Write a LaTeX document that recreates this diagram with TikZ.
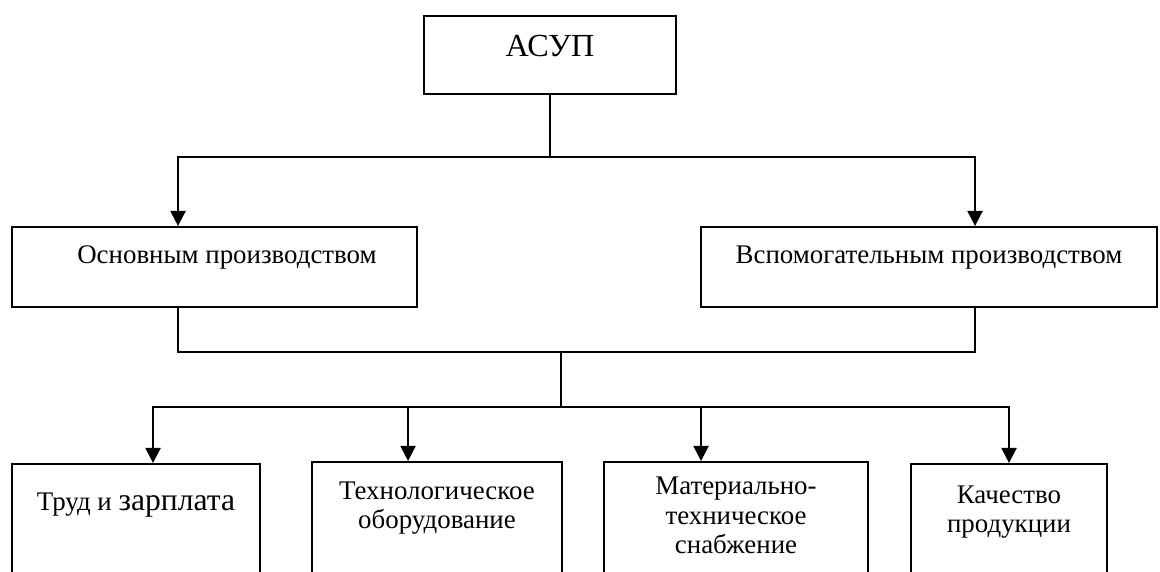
\documentclass[tikz,border=0pt]{standalone}
\usepackage{fontspec}
\setmainfont{Liberation Serif}
\usetikzlibrary{arrows.meta}

\begin{document}
\begin{tikzpicture}[
  box/.style={draw, line width=1.1pt, inner sep=0pt, anchor=north, align=center,
    font=\fontsize{15.3}{17}\selectfont},
  line/.style={line width=1.1pt},
  arr/.style={line width=1.1pt, -{Triangle[length=0.3cm,width=0.3cm]}}
]
\useasboundingbox (0,0) rectangle (23.2,11.44);

\node[box, minimum width=5.05cm, text height=0.82cm, text depth=0.74cm,
  font=\fontsize{18.3}{20}\selectfont] (asup) at (11,11.14) {АСУП};

\node[box, minimum width=8.1cm, text height=0.74cm, text depth=0.86cm] (osnov) at (4.29,6.92) {\hspace*{0.5cm}Основным производством};
\node[box, minimum width=9.12cm, text height=0.74cm, text depth=0.86cm] (vspom) at (18.58,6.92) {Вспомогательным производством};

\coordinate (jtop) at (11,8.3);
\draw[line] (asup) -- (jtop);
\draw[arr] (jtop) -| ([xshift=3.34cm]osnov.north west);
\draw[arr] (jtop) -| ([xshift=5.50cm]vspom.north west);

\node[box, minimum width=4.96cm, text height=0.94cm, text depth=1.44cm] (trud) at (2.72,2.18) {Труд и {\fontsize{18}{20}\selectfont зарплата}};
\node[box, minimum width=5.0cm, text height=1.34cm, text depth=1.08cm] (tehn) at (8.74,2.22) {Технологическое\\оборудование};
\node[box, minimum width=5.28cm, text height=1.84cm, text depth=0.58cm] (mater) at (14.72,2.22) {Материально-\\техническое\\снабжение};
\node[box, minimum width=3.92cm, text height=1.38cm, text depth=1.0cm] (kach) at (20.18,2.18) {Качество\\продукции};

\coordinate (jmid) at (11.22,4.40);
\coordinate (jlow) at (11.22,3.30);
\draw[line] ([xshift=3.34cm]osnov.south west) |- (jmid);
\draw[line] ([xshift=5.50cm]vspom.south west) |- (jmid);
\draw[line] (jmid) -- (jlow);

\draw[arr] (jlow) -| ([xshift=2.84cm]trud.north west);
\draw[arr] (jlow) -| ([xshift=1.94cm]tehn.north west);
\draw[arr] (jlow) -| ([xshift=1.96cm]mater.north west);
\draw[arr] (jlow) -| ([xshift=1.98cm]kach.north west);

\end{tikzpicture}
\end{document}
